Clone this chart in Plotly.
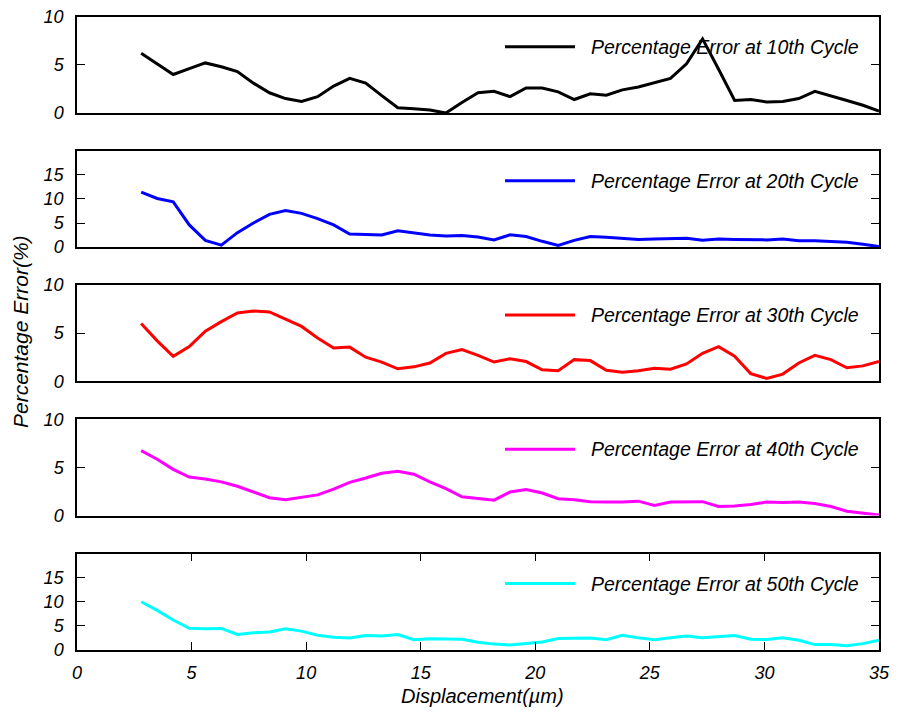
import plotly.graph_objects as go

# ---------------- data ----------------
displacement = [2.8, 3.5, 4.2, 4.9, 5.6, 6.3, 7.0, 7.7, 8.4, 9.1, 9.8, 10.5, 11.2, 11.9,
                12.6, 13.3, 14.0, 14.7, 15.4, 16.1, 16.8, 17.5, 18.2, 18.9, 19.6, 20.3,
                21.0, 21.7, 22.4, 23.1, 23.8, 24.5, 25.2, 25.9, 26.6, 27.3, 28.0, 28.7,
                29.4, 30.1, 30.8, 31.5, 32.2, 32.9, 33.6, 34.3, 35.0]

err_10 = [6.2, 5.1, 4.0, 4.6, 5.2, 4.8, 4.3, 3.1, 2.1, 1.5, 1.2, 1.7, 2.8, 3.6,
          3.1, 1.8, 0.55, 0.45, 0.3, 0.0, 1.1, 2.1, 2.25, 1.7, 2.6, 2.6,
          2.2, 1.4, 2.0, 1.85, 2.4, 2.7, 3.15, 3.6, 5.1, 7.7, 4.55, 1.3,
          1.4, 1.15, 1.2, 1.5, 2.25, 1.8, 1.3, 0.8, 0.2]

err_20 = [11.4, 10.1, 9.4, 4.6, 1.4, 0.4, 3.0, 5.0, 6.8, 7.6, 7.0, 5.9, 4.6, 2.7,
          2.6, 2.5, 3.4, 2.9, 2.5, 2.3, 2.4, 2.1, 1.5, 2.55, 2.2, 1.2,
          0.35, 1.4, 2.2, 2.05, 1.85, 1.6, 1.7, 1.7, 1.85, 1.4, 1.7, 1.6,
          1.5, 1.5, 1.7, 1.3, 1.3, 1.1, 1.0, 0.6, 0.1]

err_30 = [6.0, 4.2, 2.6, 3.6, 5.2, 6.2, 7.1, 7.3, 7.2, 6.45, 5.7, 4.5, 3.45, 3.55,
          2.5, 2.0, 1.3, 1.5, 1.9, 2.9, 3.3, 2.7, 2.0, 2.35, 2.05, 1.2,
          1.1, 2.25, 2.15, 1.15, 0.95, 1.1, 1.35, 1.25, 1.8, 2.9, 3.6, 2.6,
          0.8, 0.3, 0.75, 1.9, 2.7, 2.25, 1.4, 1.6, 2.05]

err_40 = [6.75, 5.85, 4.8, 4.0, 3.8, 3.5, 3.05, 2.45, 1.85, 1.65, 1.9, 2.15, 2.75, 3.45,
          3.9, 4.4, 4.6, 4.3, 3.5, 2.8, 1.95, 1.8, 1.6, 2.45, 2.7, 2.35,
          1.75, 1.65, 1.45, 1.4, 1.4, 1.5, 1.05, 1.4, 1.45, 1.45, 0.95, 1.0,
          1.15, 1.4, 1.35, 1.4, 1.25, 0.95, 0.45, 0.25, 0.05]

err_50 = [10.0, 8.2, 6.2, 4.5, 4.4, 4.45, 3.2, 3.55, 3.7, 4.4, 3.9, 3.05, 2.65, 2.45,
          3.0, 2.9, 3.2, 2.1, 2.3, 2.2, 2.2, 1.6, 1.2, 1.0, 1.3, 1.65,
          2.35, 2.35, 2.45, 2.1, 3.05, 2.5, 2.1, 2.5, 2.9, 2.5, 2.8, 3.0,
          2.2, 2.15, 2.5, 2.0, 1.1, 1.1, 0.85, 1.3, 2.0]

series = [err_10, err_20, err_30, err_40, err_50]
labels = ["Percentage Error at 10th Cycle", "Percentage Error at 20th Cycle",
          "Percentage Error at 30th Cycle", "Percentage Error at 40th Cycle",
          "Percentage Error at 50th Cycle"]
colors = ["#000000", "#0000ff", "#ff0000", "#ff00ff", "#00ffff"]
y_ranges = [[0, 10], [0, 20], [0, 10], [0, 10], [0, 20]]
y_ticks = [[0, 5, 10], [0, 5, 10, 15], [0, 5, 10], [0, 5, 10], [0, 5, 10, 15]]
x_ticks = [0, 5, 10, 15, 20, 25, 30, 35]

# ---------------- layout geometry (pixels) ----------------
W, H = 899, 715
x_left, x_right = 77, 879
tops = [16.7, 150.8, 285.0, 419.3, 553.6]
panel_h = 96.3

FONT = "Liberation Sans"
tick_font = dict(family=FONT, size=18, color="black", style="italic")

fig = go.Figure()
shapes = []
annotations = []

for i in range(5):
    xa = "x" if i == 0 else f"x{i+1}"
    ya = "y" if i == 0 else f"y{i+1}"
    fig.add_trace(go.Scatter(x=displacement, y=series[i], mode="lines",
                             line=dict(color=colors[i], width=3),
                             xaxis=xa, yaxis=ya, showlegend=False,
                             name=labels[i]))
    T = tops[i]
    B = T + panel_h
    dom_y = [1 - B / H, 1 - T / H]
    last = (i == 4)
    xkey = "xaxis" if i == 0 else f"xaxis{i+1}"
    ykey = "yaxis" if i == 0 else f"yaxis{i+1}"
    fig.update_layout(**{
        xkey: dict(domain=[x_left / W, x_right / W], range=[0, 35],
                   anchor=ya, showline=True, mirror=("ticks" if last else True),
                   linecolor="black", linewidth=1.5,
                   ticks=("inside" if last else ""), ticklen=8, tickwidth=1,
                   tickcolor="black",
                   tickvals=x_ticks, showticklabels=last,
                   tickfont=tick_font, ticklabelstandoff=6,
                   showgrid=False, zeroline=False, automargin=False),
        ykey: dict(domain=dom_y, range=y_ranges[i], anchor=xa,
                   showline=True, mirror="ticks", linecolor="black",
                   linewidth=1.5, ticks="inside", ticklen=8, tickwidth=1,
                   tickcolor="black", tickvals=y_ticks[i],
                   tickfont=tick_font, ticklabelstandoff=8,
                   showgrid=False, zeroline=False, automargin=False),
    })
    # hand-drawn legend (long line sample + italic text)
    ly = T + 30
    shapes.append(dict(type="line", xref="paper", yref="paper",
                       x0=505 / W, x1=575 / W, y0=1 - ly / H, y1=1 - ly / H,
                       line=dict(color=colors[i], width=3)))
    annotations.append(dict(xref="paper", yref="paper", x=589 / W, y=1 - ly / H,
                            xanchor="left", yanchor="middle", showarrow=False,
                            text=labels[i],
                            font=dict(family=FONT, size=19.5, color="black",
                                      style="italic")))

annotations.append(dict(xref="paper", yref="paper", x=482 / W, y=1 - 696 / H,
                        xanchor="center", yanchor="middle", showarrow=False,
                        text="Displacement(\u00b5m)",
                        font=dict(family=FONT, size=20, color="black", style="italic")))
annotations.append(dict(xref="paper", yref="paper", x=20 / W, y=1 - 332 / H,
                        xanchor="center", yanchor="middle", showarrow=False,
                        textangle=-90, text="Percentage Error(%)",
                        font=dict(family=FONT, size=21, color="black", style="italic")))

fig.update_layout(width=W, height=H, margin=dict(l=0, r=0, t=0, b=0),
                  paper_bgcolor="white", plot_bgcolor="white",
                  shapes=shapes, annotations=annotations, showlegend=False)

fig.write_html("out.html")
